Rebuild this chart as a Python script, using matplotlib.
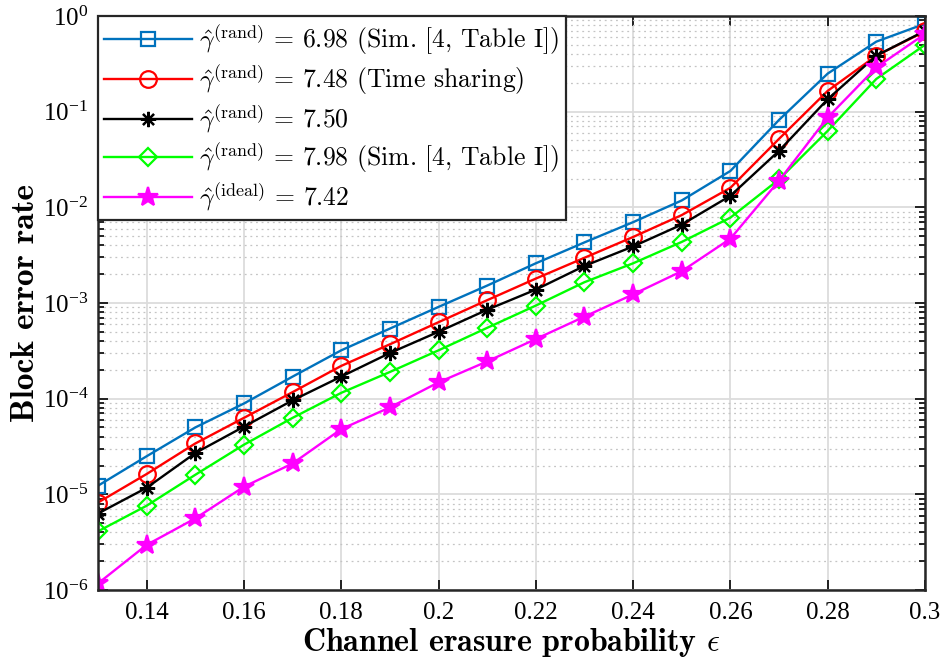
import matplotlib
matplotlib.use("Agg")
import matplotlib.pyplot as plt
import numpy as np
from matplotlib.ticker import FixedLocator, NullLocator, NullFormatter, LogFormatterSciNotation

plt.rcParams['font.family'] = ['Liberation Serif', 'DejaVu Serif']
plt.rcParams['mathtext.fontset'] = 'stix'

eps = [0.13, 0.14, 0.15, 0.16, 0.17, 0.18, 0.19, 0.20, 0.21, 0.22,
       0.23, 0.24, 0.25, 0.26, 0.27, 0.28, 0.29, 0.30]

bler_698 = [1.23e-5, 2.5e-5, 5.0e-5, 8.9e-5, 1.7e-4, 3.2e-4, 5.4e-4, 9.1e-4, 1.52e-3, 2.6e-3,
            4.3e-3, 7.0e-3, 1.18e-2, 2.4e-2, 8.2e-2, 0.25, 0.54, 0.83]
bler_748 = [8.2e-6, 1.63e-5, 3.4e-5, 6.3e-5, 1.17e-4, 2.2e-4, 3.7e-4, 6.3e-4, 1.07e-3, 1.8e-3,
            2.97e-3, 4.9e-3, 8.3e-3, 1.6e-2, 5.2e-2, 0.165, 0.385, 0.69]
bler_750 = [6.3e-6, 1.17e-5, 2.7e-5, 5.1e-5, 9.6e-5, 1.7e-4, 3.0e-4, 5.0e-4, 8.5e-4, 1.38e-3,
            2.44e-3, 3.9e-3, 6.6e-3, 1.32e-2, 3.9e-2, 0.135, 0.385, 0.70]
bler_798 = [4.1e-6, 7.6e-6, 1.6e-5, 3.3e-5, 6.3e-5, 1.15e-4, 1.9e-4, 3.2e-4, 5.5e-4, 9.4e-4,
            1.65e-3, 2.6e-3, 4.35e-3, 7.8e-3, 1.96e-2, 0.063, 0.22, 0.50]
bler_ideal = [1.17e-6, 2.96e-6, 5.6e-6, 1.2e-5, 2.1e-5, 4.8e-5, 8.1e-5, 1.48e-4, 2.45e-4, 4.2e-4,
              7.2e-4, 1.23e-3, 2.15e-3, 4.7e-3, 1.9e-2, 0.087, 0.29, 0.65]

labels = [
    r'$\hat{\gamma}^{(\mathrm{rand})}$ = 6.98 (Sim. [4, Table I])',
    r'$\hat{\gamma}^{(\mathrm{rand})}$ = 7.48 (Time sharing)',
    r'$\hat{\gamma}^{(\mathrm{rand})}$ = 7.50',
    r'$\hat{\gamma}^{(\mathrm{rand})}$ = 7.98 (Sim. [4, Table I])',
    r'$\hat{\gamma}^{(\mathrm{ideal})}$ = 7.42',
]

xticks = [0.14, 0.16, 0.18, 0.20, 0.22, 0.24, 0.26, 0.28, 0.30]
xticklabels = ['0.14', '0.16', '0.18', '0.2', '0.22', '0.24', '0.26', '0.28', '0.3']
yticks = [1e-6, 1e-5, 1e-4, 1e-3, 1e-2, 1e-1, 1e0]

fig = plt.figure(figsize=(9.45, 6.62), dpi=100)
ax = fig.add_axes([0.1037, 0.1088, 0.9788 - 0.1037, 0.9758 - 0.1088])

series = [
    (bler_698, '#0072BD', 's', 10, True),
    (bler_748, '#FF0000', 'o', 12, True),
    (bler_750, '#000000', (8, 2, 0), 11, False),
    (bler_798, '#00FF00', 'D', 9, True),
    (bler_ideal, '#FF00FF', '*', 15, False),
]
for (vals, col, mk, ms, hollow), lab in zip(series, labels):
    ax.semilogy(eps, vals, color=col, marker=mk, markersize=ms, linewidth=1.7,
                markeredgewidth=1.6, markerfacecolor='none' if hollow else col,
                label=lab)

ax.set_xlim(0.13, 0.30)
ax.set_ylim(1e-6, 1)
ax.xaxis.set_major_locator(FixedLocator(xticks))
ax.set_xticklabels(xticklabels)
ax.xaxis.set_minor_locator(NullLocator())
ax.yaxis.set_major_locator(FixedLocator(yticks))
ax.yaxis.set_major_formatter(LogFormatterSciNotation())
minor = [m * 10.0 ** e for e in range(-6, 0) for m in range(2, 10)]
ax.yaxis.set_minor_locator(FixedLocator(minor))
ax.yaxis.set_minor_formatter(NullFormatter())

ax.tick_params(which='both', direction='in', top=True, right=True, labelsize=18, width=1.2)
ax.tick_params(which='major', length=7)
ax.tick_params(axis='x', which='major', pad=9)
ax.tick_params(axis='y', which='major', pad=7)
ax.tick_params(which='minor', length=4)

ax.grid(True, which='major', color='#dcdcdc', linewidth=1.3, linestyle='-')
ax.grid(True, which='minor', axis='y', color='#c4c4c4', linewidth=0.9, linestyle=(0, (1.5, 3)))
ax.set_axisbelow(True)
for sp in ax.spines.values():
    sp.set_linewidth(1.8)
    sp.set_color('#262626')

xl = ax.set_xlabel(r'Channel erasure probability $\epsilon$', fontsize=23,
                   family='cmb10', labelpad=1)
xl.set_math_fontfamily('cm')
yl = ax.set_ylabel('Block error rate', fontsize=24, family='cmb10', labelpad=2)

leg = ax.legend(loc='upper left', bbox_to_anchor=(0, 1), borderaxespad=0,
                prop={'family': 'cmr10', 'size': 18.5},
                fancybox=False, framealpha=1, edgecolor='#262626',
                handlelength=3.4, labelspacing=0.2, borderpad=0.25, handletextpad=0.3)
leg.get_frame().set_linewidth(1.6)
for t in leg.get_texts():
    t.set_math_fontfamily('cm')

fig.savefig('out.png', dpi=100)
